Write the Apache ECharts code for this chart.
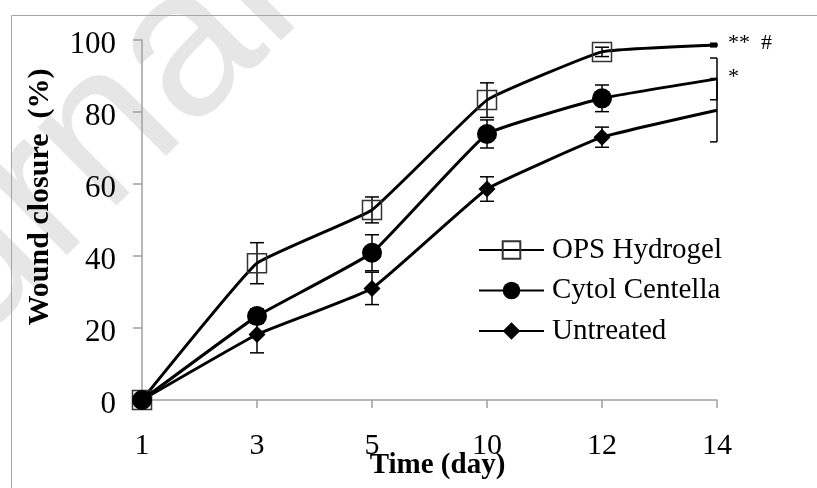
<!DOCTYPE html>
<html>
<head>
<meta charset="utf-8">
<script src="https://cdn.jsdelivr.net/npm/echarts@6/dist/echarts.min.js"></script>
<style>
html,body{margin:0;padding:0;background:#fff;}
#chart{width:817px;height:488px;}
</style>
</head>
<body>
<div id="chart"></div>
<script>
// ---- data ----
var days = ['1', '3', '5', '10', '12', '14'];
var yTicks = [0, 20, 40, 60, 80, 100];
var seriesNames = ['OPS Hydrogel', 'Cytol Centella', 'Untreated'];
var opsMean = [0, 38.0, 52.8, 83.3, 96.7, 98.6];
var opsErr = [0, 5.7, 3.6, 4.8, 1.3, 0.5];
var cytolMean = [0, 23.3, 40.9, 73.9, 83.8, 89.2];
var cytolErr = [0, 2.0, 5.0, 3.9, 3.7, 5.8];
var untreatedMean = [0, 18.2, 31.0, 58.6, 73.0, 80.5];
var untreatedErr = [0, 5.1, 4.5, 3.4, 2.8, 8.8];
var xTitle = 'Time (day)';
var yTitle = 'Wound closure  (%)';
var sigTop = '**  #';
var sigMid = '*';

var FONT = 'Liberation Serif, Times New Roman, serif';
var AXIS_GRAY = '#a0a0a0';
var LAST = days.length - 1;

function errData(mean, err) {
  return mean.map(function (m, i) { return [i, m - err[i], m + err[i]]; });
}
function errSeries(mean, err) {
  return {
    type: 'custom',
    z: 1,
    silent: true,
    data: errData(mean, err),
    renderItem: function (params, api) {
      var x = api.value(0);
      var lo = api.coord([x, api.value(1)]);
      var hi = api.coord([x, api.value(2)]);
      var cs = params.coordSys;
      var right = cs.x + cs.width;
      var hw = 7;
      var st = { stroke: '#000', lineWidth: 1.5, fill: 'none' };
      var r = Math.min(lo[0] + hw, right);
      return {
        type: 'group',
        children: [
          { type: 'line', shape: { x1: lo[0], y1: lo[1], x2: hi[0], y2: hi[1] }, style: st },
          { type: 'line', shape: { x1: lo[0] - hw, y1: lo[1], x2: r, y2: lo[1] }, style: st },
          { type: 'line', shape: { x1: hi[0] - hw, y1: hi[1], x2: r, y2: hi[1] }, style: st }
        ]
      };
    }
  };
}
// no marker on the last (day 14) point
function lineData(mean) {
  return mean.map(function (v, i) { return i === LAST ? { value: v, symbol: 'none' } : v; });
}

var chart = echarts.init(document.getElementById('chart'), null, { renderer: 'canvas' });
var option = {
  animation: false,
  backgroundColor: '#fff',
  textStyle: { fontFamily: FONT },
  grid: { left: 142, right: 100, top: 40, bottom: 88, containLabel: false, outerBoundsMode: 'none' },
  graphic: [
    {
      type: 'text', z: -10, silent: true,
      x: 350, y: -110, rotation: Math.PI / 4,
      style: {
        text: 'Journal Pre-proof', fill: '#e6e6e6',
        font: '210px "Liberation Sans", Arial, sans-serif',
        align: 'center', verticalAlign: 'middle'
      }
    },
    {
      type: 'rect', z: -5, silent: true,
      shape: { x: 11.5, y: 15.5, width: 900, height: 600 },
      style: { fill: 'none', stroke: '#a6a6a6', lineWidth: 1 }
    },
    {
      type: 'text', x: 40, y: 197, rotation: Math.PI / 2,
      style: { text: yTitle, fill: '#000', font: 'bold 30px ' + FONT, align: 'center', verticalAlign: 'middle' }
    },
    {
      type: 'text', x: 728, y: 43,
      style: { text: sigTop, fill: '#000', font: '22px ' + FONT, align: 'left', verticalAlign: 'middle' }
    },
    {
      type: 'text', x: 728, y: 77,
      style: { text: sigMid, fill: '#000', font: '22px ' + FONT, align: 'left', verticalAlign: 'middle' }
    }
  ],
  legend: {
    orient: 'vertical',
    left: 473,
    top: 230,
    itemWidth: 65,
    itemHeight: 22,
    itemGap: 10.5,
    data: seriesNames,
    textStyle: { fontFamily: FONT, fontSize: 29, lineHeight: 30, color: '#000', padding: [0, 0, 0, 3] }
  },
  xAxis: {
    type: 'category',
    data: days,
    boundaryGap: false,
    name: xTitle,
    nameLocation: 'middle',
    nameGap: 51,
    nameMoveOverlap: false,
    nameTextStyle: { fontFamily: FONT, fontSize: 29, fontWeight: 'bold', color: '#000', padding: [0, 0, 0, 16] },
    axisLine: { lineStyle: { color: AXIS_GRAY, width: 1.5 } },
    axisTick: { show: true, length: 8, alignWithLabel: true, lineStyle: { color: AXIS_GRAY, width: 1.5 } },
    axisLabel: { fontFamily: FONT, fontSize: 30, color: '#000', margin: 31 },
    splitLine: { show: false }
  },
  yAxis: {
    type: 'value',
    min: yTicks[0],
    max: yTicks[yTicks.length - 1],
    interval: yTicks[1] - yTicks[0],
    axisLine: { show: true, lineStyle: { color: AXIS_GRAY, width: 1.5 } },
    axisTick: { show: true, length: 9, lineStyle: { color: AXIS_GRAY, width: 1.5 } },
    axisLabel: { fontFamily: FONT, fontSize: 31, color: '#000', margin: 26, verticalAlign: 'top', lineHeight: 9 },
    splitLine: { show: false }
  },
  series: [
    errSeries(opsMean, opsErr),
    errSeries(cytolMean, cytolErr),
    errSeries(untreatedMean, untreatedErr),
    {
      name: seriesNames[0], type: 'line', data: lineData(opsMean), smooth: 0.1, z: 3,
      symbol: 'rect', symbolSize: 19, showAllSymbol: true,
      lineStyle: { color: '#000', width: 3 },
      itemStyle: { color: 'rgba(255,255,255,0)', borderColor: '#333', borderWidth: 1.5 }
    },
    {
      name: seriesNames[1], type: 'line', data: lineData(cytolMean), smooth: 0.1, z: 4,
      symbol: 'circle', symbolSize: 20, showAllSymbol: true,
      lineStyle: { color: '#000', width: 3 },
      itemStyle: { color: '#000', borderWidth: 0 }
    },
    {
      name: seriesNames[2], type: 'line', data: lineData(untreatedMean), smooth: 0.1, z: 3,
      symbol: 'diamond', symbolSize: 17, showAllSymbol: true,
      lineStyle: { color: '#000', width: 3 },
      itemStyle: { color: '#000', borderWidth: 0 }
    }
  ]
};
chart.setOption(option);
</script>
</body>
</html>
